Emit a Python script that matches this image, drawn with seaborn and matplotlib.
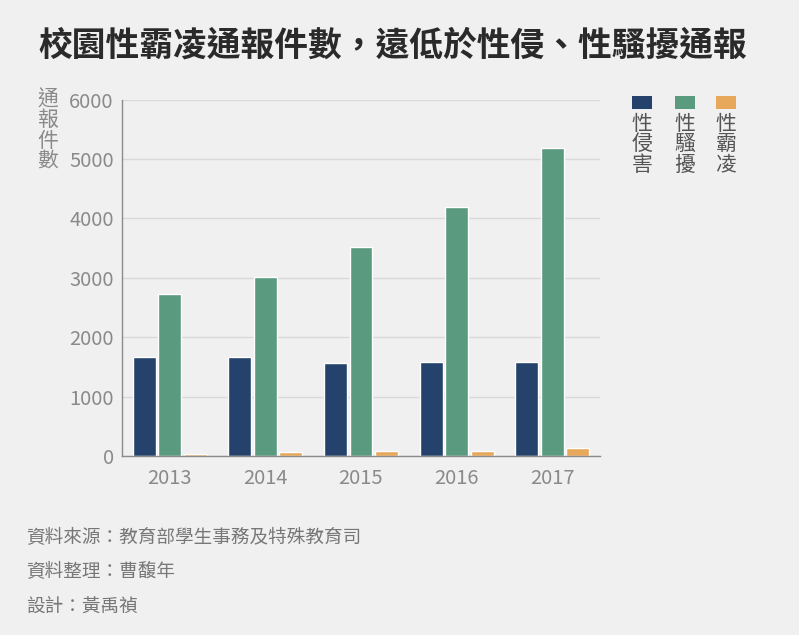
import matplotlib
matplotlib.use("Agg")
import matplotlib.pyplot as plt
from matplotlib.patches import Rectangle
import seaborn as sns
import pandas as pd

years = ["2013", "2014", "2015", "2016", "2017"]
series_names = ["性侵害", "性騷擾", "性霸凌"]
sexual_assault = [1660, 1665, 1560, 1580, 1578]
sexual_harassment = [2720, 3010, 3515, 4200, 5185]
sexual_bullying = [28, 67, 88, 90, 134]
yticks = [0, 1000, 2000, 3000, 4000, 5000, 6000]
colors = ["#24426b", "#5a9a7f", "#e8a85c"]

title = "校園性霸凌通報件數，遠低於性侵、性騷擾通報"
ylabel = "通報件數"
footer = ["資料來源：教育部學生事務及特殊教育司", "資料整理：曹馥年", "設計：黃禹禎"]

df = pd.DataFrame({
    "year": years * 3,
    "value": sexual_assault + sexual_harassment + sexual_bullying,
    "series": [s for s in series_names for _ in years],
})

sns.set_theme(style="white")
plt.rcParams["font.family"] = ["Noto Sans CJK TC", "DejaVu Sans"]
BG = "#f0f0f0"
GREY = "#8a8a8a"

fig = plt.figure(figsize=(7.99, 6.35), dpi=100, facecolor=BG)
ax = fig.add_axes([122 / 799, 1 - 456 / 635, (600 - 122) / 799, (456 - 99.6) / 635])
ax.set_facecolor(BG)

sns.barplot(data=df, x="year", y="value", hue="series", palette=colors,
            width=0.8, gap=0.1, ax=ax, legend=False, saturation=1)

ax.set_ylim(0, 6000)
ax.set_xlim(-0.5, 4.5)
ax.set_yticks(yticks)
ax.set_yticklabels([str(t) for t in yticks])
ax.set_xlabel("")
ax.set_ylabel("")
ax.yaxis.grid(True, color="#d9d9d9", linewidth=1)
ax.set_axisbelow(True)
for s in ["top", "right"]:
    ax.spines[s].set_visible(False)
for s in ["left", "bottom"]:
    ax.spines[s].set_color(GREY)
    ax.spines[s].set_linewidth(1)
ax.tick_params(axis="y", length=0, labelsize=14.5, labelcolor=GREY, pad=6)
ax.tick_params(axis="x", length=0, labelsize=14.5, labelcolor=GREY, pad=9)
for lbl in ax.get_yticklabels() + ax.get_xticklabels():
    lbl.set_fontweight("light")

# y label, stacked vertical characters
fig.text(48 / 799, 1 - 89 / 635, "\n".join(ylabel), ha="center", va="top",
         fontsize=15, color=GREY, linespacing=0.9, fontweight="light")

# title
fig.text(38 / 799, 1 - 45 / 635, title, ha="left", va="center",
         fontsize=24.3, fontweight="bold", color="#2a2a2a")

# legend
leg_x = [642, 685, 726]
for name, c, x in zip(series_names, colors, leg_x):
    fig.patches.append(Rectangle(((x - 10) / 799, 1 - 109 / 635), 20 / 799, 13 / 635,
                                 transform=fig.transFigure, facecolor=c, edgecolor="none"))
    fig.text(x / 799, 1 - 113 / 635, "\n".join(name), ha="center", va="top",
             fontsize=15, color="#555555", linespacing=0.9, fontweight="light")

# footer
for i, t in enumerate(footer):
    fig.text(26 / 799, 1 - (538 + 34.5 * i) / 635, t, ha="left", va="center",
             fontsize=13.4, color="#777777")

fig.savefig("out.png", dpi=100, facecolor=BG)
